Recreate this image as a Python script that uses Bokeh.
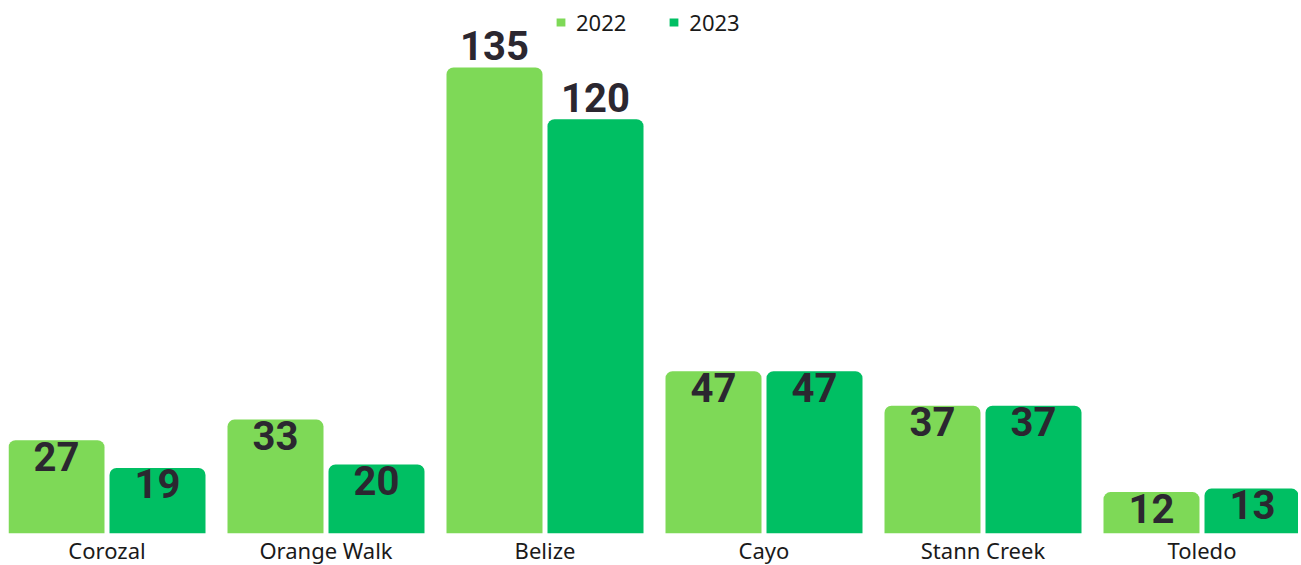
from bokeh.plotting import figure
from bokeh.models import ColumnDataSource, FixedTicker, Legend, LegendItem, Range1d
from bokeh.core.properties import value
from bokeh.embed import file_html
from bokeh.resources import INLINE

categories = ["Corozal", "Orange Walk", "Belize", "Cayo", "Stann Creek", "Toledo"]
series_2022 = [27, 33, 135, 47, 37, 12]
series_2023 = [19, 20, 120, 47, 37, 13]
series_names = ["2022", "2023"]
series_colors = ["#7ED957", "#00BF63"]

UNIT = 219.0            # pixels per category group
BAR_W = 96 / UNIT
OFF = 50.5 / UNIT
PX_PER_VAL = 3.452
FRAME_W, FRAME_H = 1290, 533

idx = list(range(len(categories)))
x0 = -98.5 / UNIT

p = figure(frame_width=FRAME_W, frame_height=FRAME_H, output_backend="svg",
           toolbar_location=None,
           x_range=Range1d(x0, x0 + FRAME_W / UNIT),
           y_range=Range1d(0, FRAME_H / PX_PER_VAL),
           min_border_left=8, min_border_right=0, min_border_top=0, min_border_bottom=0)
p.outline_line_color = None
p.xgrid.visible = False
p.ygrid.visible = False
p.yaxis.visible = False
p.background_fill_color = "white"
p.border_fill_color = "white"

renderers = []
for k, (vals, col, off) in enumerate(zip([series_2022, series_2023], series_colors, [-OFF, OFF])):
    xs = [i + off for i in idx]
    src = ColumnDataSource(dict(x=xs, top=vals))
    r = p.vbar(x="x", top="top", width=BAR_W, source=src, fill_color=col,
               line_color=None, border_radius=(7, 7, 0, 0))
    renderers.append(r)
    # value labels: inside near top for most, above for tall bars
    ins = [(x, v) for x, v in zip(xs, vals) if v < 100]
    out = [(x, v) for x, v in zip(xs, vals) if v >= 100]
    if ins:
        p.text(x=[a for a, _ in ins], y=[b for _, b in ins], text=[str(b) for _, b in ins],
               text_align="center", text_baseline="alphabetic", y_offset=16,
               text_font=value("Roboto"), text_font_style="bold",
               text_font_size="40px", text_color="#2B2730")
    if out:
        p.text(x=[a for a, _ in out], y=[b for _, b in out], text=[str(b) for _, b in out],
               text_align="center", text_baseline="alphabetic", y_offset=-22,
               text_font=value("Roboto"), text_font_style="bold",
               text_font_size="40px", text_color="#2B2730")

p.xaxis.ticker = FixedTicker(ticks=idx)
p.xaxis.major_label_overrides = {i: c for i, c in enumerate(categories)}
p.xaxis.axis_line_color = None
p.xaxis.major_tick_line_color = None
p.xaxis.minor_tick_line_color = None
p.xaxis.major_tick_out = 0
p.xaxis.major_tick_in = 0
p.xaxis.major_label_standoff = 1
p.xaxis.major_label_text_font = "Noto Sans"
p.xaxis.major_label_text_font_size = "22px"
p.xaxis.major_label_text_color = "#1A1A1A"

legend = Legend(items=[LegendItem(label=n, renderers=[r]) for n, r in zip(series_names, renderers)],
                orientation="horizontal", location=(547, 496),
                glyph_width=11, glyph_height=10, label_height=30, label_standoff=10, spacing=42,
                padding=0, margin=0, border_line_color=None, background_fill_alpha=0,
                label_text_font="Noto Sans", label_text_font_size="22px",
                label_text_color="#1A1A1A")
p.add_layout(legend)

open("out.html", "w").write(file_html(p, INLINE))
